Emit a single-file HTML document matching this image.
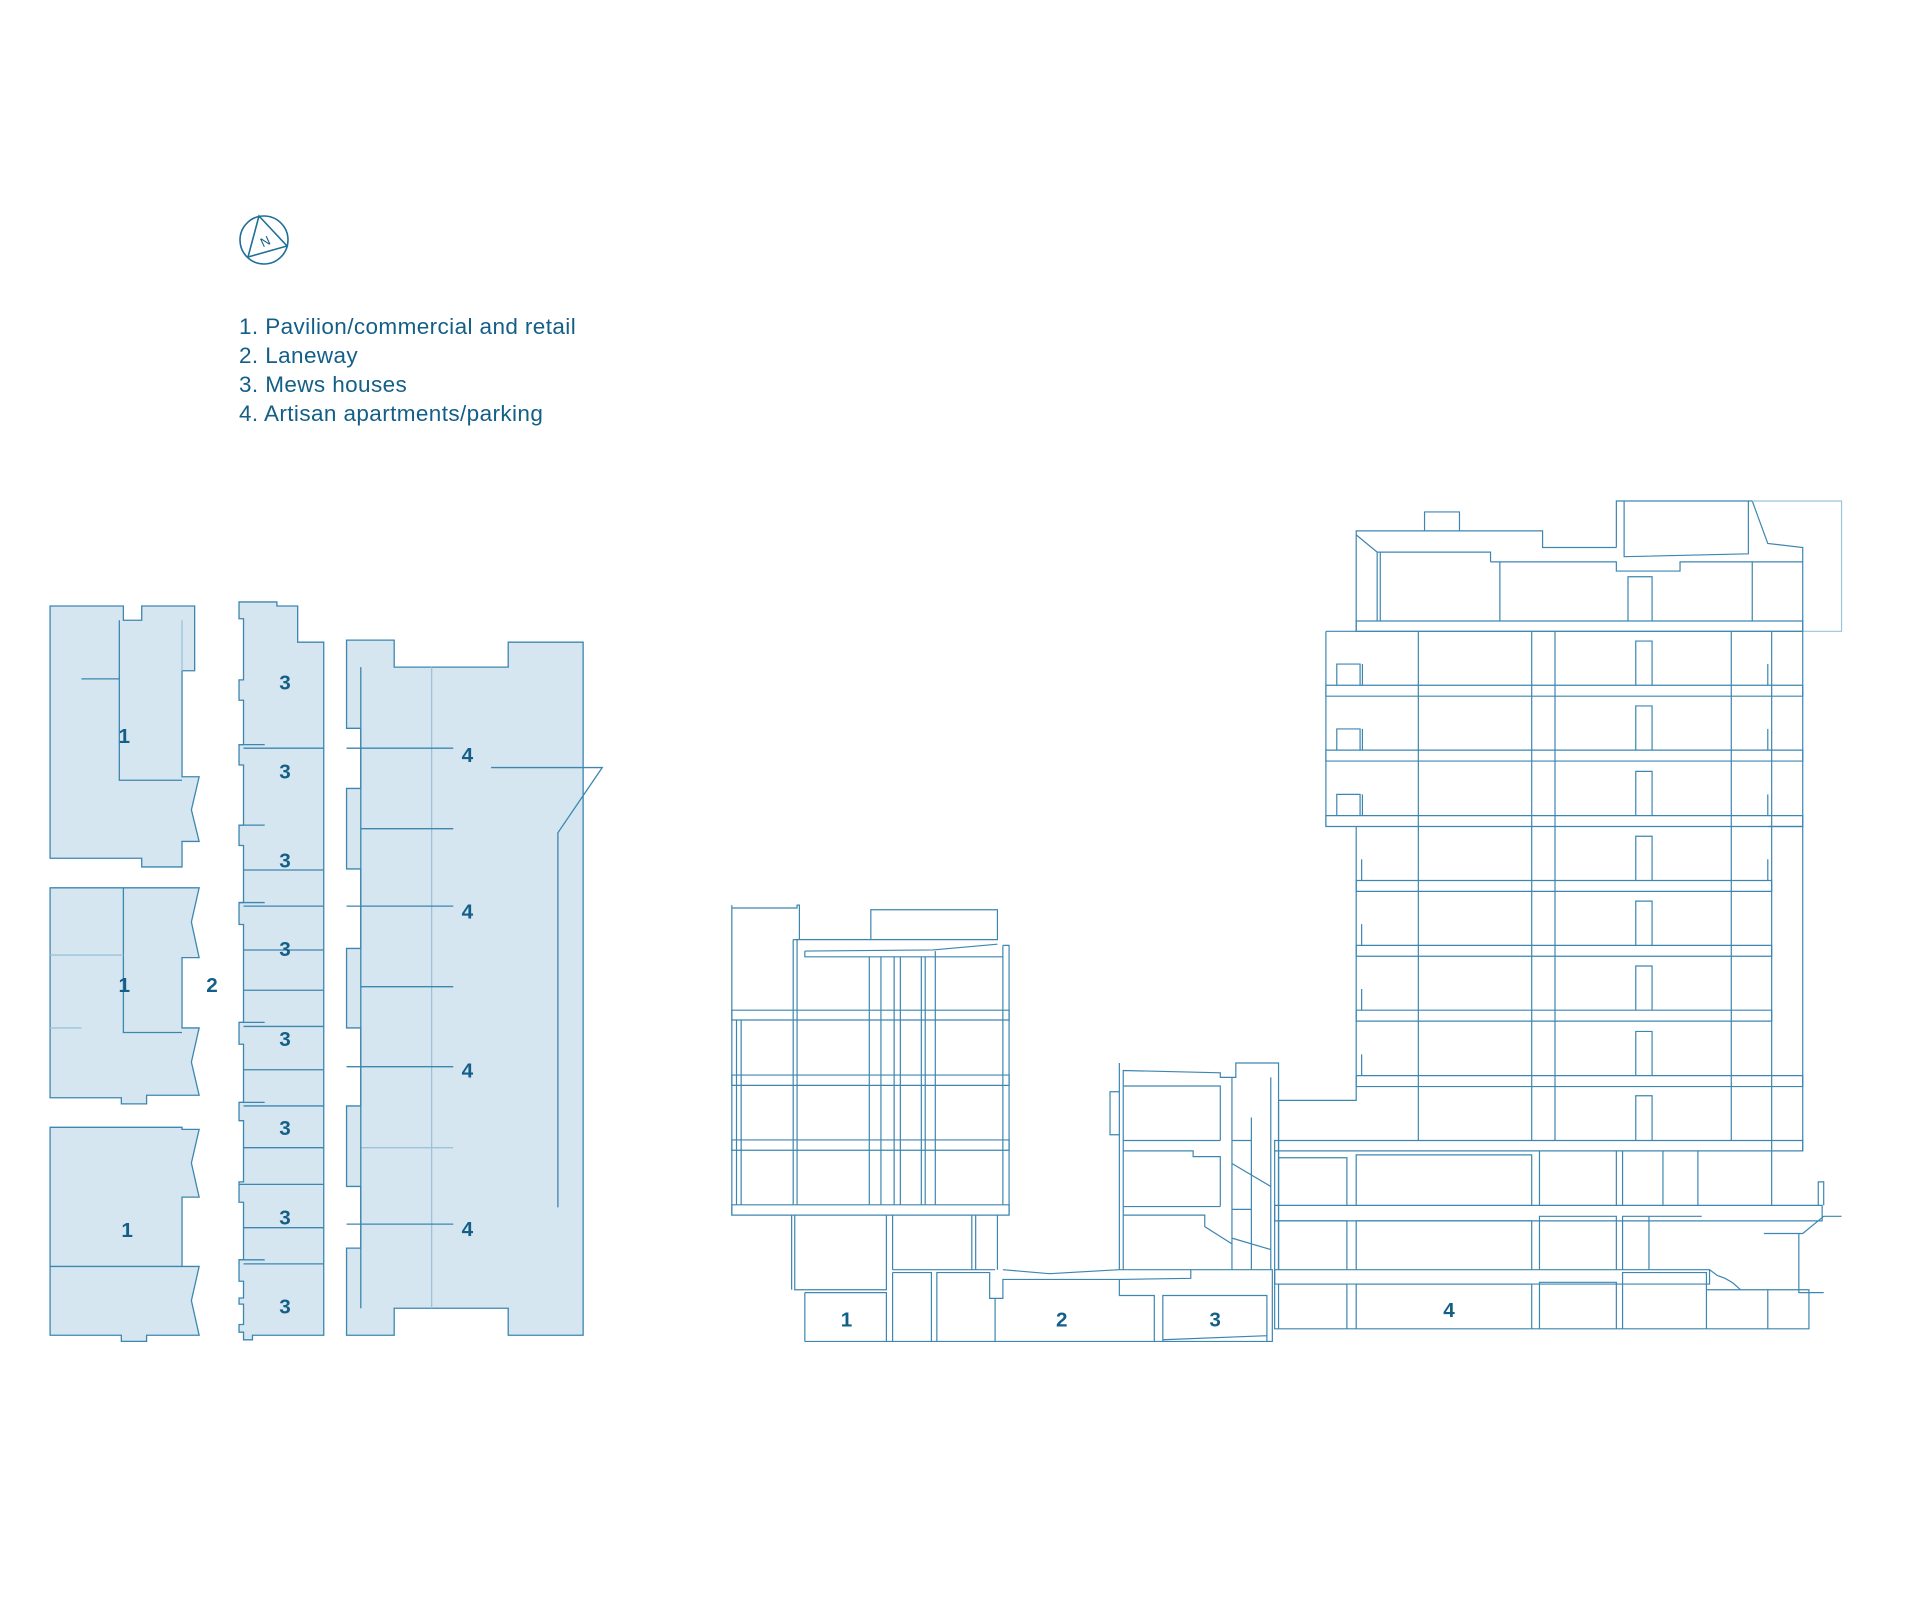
<!DOCTYPE html>
<html><head><meta charset="utf-8"><style>
html,body{margin:0;padding:0;background:#fff;}
svg{display:block;}
.t{font-family:"Liberation Sans",sans-serif;fill:#135f87;}
</style></head><body>
<svg width="1920" height="1600" viewBox="0 0 1920 1600" xmlns="http://www.w3.org/2000/svg">
<!-- compass -->
<g fill="none" stroke="#1f6f99" stroke-width="1.6">
<circle cx="264" cy="240" r="24"/>
<polygon points="259,216 287,246 248,257"/>
</g>
<text x="265" y="246" class="t" font-size="13" text-anchor="middle" transform="rotate(-25 265 241)">N</text>
<g class="t" font-size="22.5" letter-spacing="0.4">
<text x="239" y="334">1. Pavilion/commercial and retail</text>
<text x="239" y="363">2. Laneway</text>
<text x="239" y="392">3. Mews houses</text>
<text x="239" y="421">4. Artisan apartments/parking</text>
</g>

<!-- PLAN -->
<g transform="translate(0,606) scale(0.986,0.98) translate(0,-606)">
<g transform="matrix(0.413,0,0,0.52,0,580)" fill="#d5e6f1" stroke="#3d86b0" stroke-width="1.3">
<path vector-effect="non-scaling-stroke" d="M123,50 L303,50 L303,78 L348,78 L348,50 L478,50 L478,177 L447,177 L447,385 L489,385 L470,450 L489,512 L447,512 L447,562 L348,562 L348,545 L123,545 Z"/>
<path vector-effect="non-scaling-stroke" d="M123,603 L489,603 L470,670 L489,740 L447,740 L447,878 L489,878 L470,945 L489,1010 L360,1010 L360,1027 L298,1027 L298,1015 L123,1015 Z"/>
<path vector-effect="non-scaling-stroke" d="M123,1073 L447,1073 L447,1077 L489,1077 L470,1143 L489,1210 L447,1210 L447,1346 L489,1346 L470,1413 L489,1481 L360,1481 L360,1493 L298,1493 L298,1481 L123,1481 Z"/>
<path vector-effect="non-scaling-stroke" d="M587,42 L680,42 L680,50 L731,50 L731,121 L795,121 L795,1481 L620,1481 L620,1490 L598,1490 L598,1475 L587,1475 L587,1460 L598,1460 L598,1420 L587,1420 L587,1408 L598,1408 L598,1375 L587,1375 L587,1333 L598,1333 L598,1220 L587,1220 L587,1180 L598,1180 L598,1060 L587,1060 L587,1024 L598,1024 L598,910 L587,910 L587,867 L598,867 L598,675 L587,675 L587,632 L598,632 L598,520 L587,520 L587,480 L598,480 L598,362 L587,362 L587,322 L598,322 L598,235 L587,235 L587,195 L598,195 L598,75 L587,75 Z"/>
<path vector-effect="non-scaling-stroke" d="M851,117 L968,117 L968,170 L1248,170 L1248,121 L1432,121 L1432,1481 L1248,1481 L1248,1428 L968,1428 L968,1481 L851,1481 L851,1310 L886,1310 L886,1189 L851,1189 L851,1031 L886,1031 L886,878 L851,878 L851,722 L886,722 L886,566 L851,566 L851,408 L886,408 L886,290 L851,290 Z"/>
<g fill="none">
<path vector-effect="non-scaling-stroke" d="M293,78 L293,392 L447,392 M200,193 L293,193 M303,603 L303,887 L447,887 M123,1346 L447,1346"/>
<path vector-effect="non-scaling-stroke" stroke="#9cc3da" d="M447,78 L447,177 M123,735 L303,735 M123,878 L200,878 M1060,170 L1060,1428 M886,1113 L1113,1113"/>
<path vector-effect="non-scaling-stroke" d="M598,329 L795,329 M598,568 L795,568 M598,639 L795,639 M598,725 L795,725 M598,804 L795,804 M598,875 L795,875 M598,960 L795,960 M598,1031 L795,1031 M598,1113 L795,1113 M598,1185 L795,1185 M598,1270 L795,1270 M598,1341 L795,1341 M587,322 L650,322 M587,480 L650,480 M587,632 L650,632 M587,867 L650,867 M587,1024 L650,1024 M587,1185 L650,1185 M587,1333 L650,1333"/>
<path vector-effect="non-scaling-stroke" d="M886,170 L886,1428 M851,329 L1113,329 M851,639 L1113,639 M851,954 L1113,954 M851,1263 L1113,1263 M886,487 L1113,487 M886,797 L1113,797 M1206,367 L1479,367 L1370,495 L1370,1230"/>
</g>
</g>
<g class="t" font-size="21" font-weight="bold" text-anchor="middle">
<text x="126" y="746">1</text><text x="126" y="1000">1</text><text x="129" y="1250">1</text>
<text x="215" y="1000">2</text>
<text x="289" y="691">3</text><text x="289" y="782">3</text><text x="289" y="873">3</text><text x="289" y="963">3</text>
<text x="289" y="1055">3</text><text x="289" y="1146">3</text><text x="289" y="1237">3</text><text x="289" y="1328">3</text>
<text x="474" y="765">4</text><text x="474" y="925">4</text><text x="474" y="1087">4</text><text x="474" y="1249">4</text>
</g>
</g>

<!-- SECTION -->
<g transform="translate(700,500) scale(0.983) translate(-700,-500)">
<g transform="matrix(0.79,0,0,0.584,700,480)" fill="none" stroke="#3d86b0" stroke-width="1.2">
<path vector-effect="non-scaling-stroke" d="M845,263 L845,88 L1085,88 L1085,117 L1180,117 M1180,117 L1180,36 L1355,36 L1375,110 L1420,117 L1420,1168"/>
<path vector-effect="non-scaling-stroke" stroke="#9cc3da" d="M1355,36 L1470,36 L1470,263 L1420,263"/>
<path vector-effect="non-scaling-stroke" d="M1190,36 L1190,133 L1350,128 L1350,36 M933,88 L933,55 L978,55 L978,88 M845,95 L872,125 L1018,125 L1018,142 M1018,142 L1180,142 L1180,158 L1262,158 L1262,142 L1420,142 M872,125 L872,245 M876,125 L876,245 M1030,142 L1030,245 M1195,245 L1195,168 L1226,168 L1226,245 M1355,142 L1355,245"/>
<rect vector-effect="non-scaling-stroke" x="845" y="245" width="575" height="18"/>
<path vector-effect="non-scaling-stroke" d="M806,263 L806,603 M806,263 L1420,263"/>
<rect vector-effect="non-scaling-stroke" x="806" y="357" width="614" height="19"/>
<rect vector-effect="non-scaling-stroke" x="806" y="470" width="614" height="19"/>
<rect vector-effect="non-scaling-stroke" x="806" y="584" width="614" height="19"/>
<rect vector-effect="non-scaling-stroke" x="845" y="697" width="535" height="19"/>
<rect vector-effect="non-scaling-stroke" x="845" y="810" width="535" height="19"/>
<rect vector-effect="non-scaling-stroke" x="845" y="923" width="535" height="19"/>
<rect vector-effect="non-scaling-stroke" x="845" y="1037" width="575" height="19"/>
<path vector-effect="non-scaling-stroke" d="M845,603 L845,1080 L745,1080 L745,1375 M925,263 L925,1150 M1071,263 L1071,1150 M1101,263 L1101,1150 M1328,263 L1328,1150 M1380,263 L1380,1263 M1375,603 L1420,603"/>
<path vector-effect="non-scaling-stroke" d="M1205,357 L1205,280 L1226,280 L1226,357 M1205,470 L1205,393 L1226,393 L1226,470 M1205,584 L1205,507 L1226,507 L1226,584 M1205,697 L1205,620 L1226,620 L1226,697 M1205,810 L1205,733 L1226,733 L1226,810 M1205,923 L1205,846 L1226,846 L1226,923 M1205,1037 L1205,960 L1226,960 L1226,1037 M1205,1150 L1205,1072 L1226,1072 L1226,1150"/>
<path vector-effect="non-scaling-stroke" d="M820,357 L820,320 L850,320 L850,357 M820,470 L820,433 L850,433 L850,470 M820,584 L820,547 L850,547 L850,584 M853,357 L853,320 M853,470 L853,433 M853,584 L853,547 M1375,357 L1375,320 M1375,470 L1375,433 M1375,584 L1375,547 M852,697 L852,660 M852,810 L852,773 M852,923 L852,886 M852,1037 L852,1000 M1375,697 L1375,660"/>
<rect vector-effect="non-scaling-stroke" x="740" y="1150" width="680" height="18"/>
<rect vector-effect="non-scaling-stroke" x="740" y="1263" width="705" height="27"/>
<rect vector-effect="non-scaling-stroke" x="740" y="1375" width="560" height="25"/>
<path vector-effect="non-scaling-stroke" d="M740,1168 L740,1478 L1428,1478 L1428,1410 L1296,1410 M745,1263 L745,1180 L833,1180 L833,1263 M845,1263 L845,1175 L1071,1175 L1071,1263 M1081,1263 L1081,1168 M1180,1168 L1180,1263 M1188,1168 L1188,1263 M1240,1168 L1240,1263 M1285,1168 L1285,1263 M745,1375 L745,1290 L833,1290 L833,1375 M845,1375 L845,1290 L1071,1290 L1071,1375 M1081,1375 L1081,1282 L1180,1282 L1180,1375 M1188,1375 L1188,1282 L1290,1282 M1222,1282 L1222,1375 M745,1478 L745,1400 L833,1400 L833,1478 M845,1478 L845,1400 L1071,1400 L1071,1478 M1081,1478 L1081,1397 L1180,1397 L1180,1478 M1188,1478 L1188,1380 L1296,1380 L1296,1478 M1375,1410 L1375,1478"/>
<path vector-effect="non-scaling-stroke" d="M1440,1263 L1440,1222 L1447,1222 L1447,1263 M1370,1312 L1420,1312 L1447,1282 L1470,1282 M1415,1312 L1415,1415 L1447,1415 M1300,1375 L1310,1385 L1320,1390 L1330,1398 L1340,1410"/>
<path vector-effect="non-scaling-stroke" d="M41,1280 L41,740 M41,745 L125,745 L125,740 L128,740 L128,800 M120,800 L383,800 L383,748 L220,748 L220,800 M125,800 L125,1262 M120,800 L120,1262 M390,810 L398,810 L398,1280 M390,810 L390,1262 M135,820 L300,818 L383,808 M135,820 L135,830 L303,830 L303,820 M303,830 L390,830"/>
<rect vector-effect="non-scaling-stroke" x="41" y="923" width="357" height="17"/>
<rect vector-effect="non-scaling-stroke" x="41" y="1036" width="357" height="18"/>
<rect vector-effect="non-scaling-stroke" x="41" y="1149" width="357" height="18"/>
<rect vector-effect="non-scaling-stroke" x="41" y="1262" width="357" height="18"/>
<path vector-effect="non-scaling-stroke" d="M53,940 L53,1262 M47,940 L47,1262 M218,830 L218,1262 M233,830 L233,1262 M250,830 L250,1262 M258,830 L258,1262 M285,830 L285,1262 M290,830 L290,1262 M303,830 L303,1262"/>
<path vector-effect="non-scaling-stroke" d="M118,1280 L118,1410 M122,1280 L122,1410 L240,1410 L240,1280 M248,1375 L248,1280 M350,1280 L350,1375 M355,1280 L355,1375 M383,1280 L383,1375"/>
<path vector-effect="non-scaling-stroke" d="M248,1375 L380,1375 M135,1500 L737,1500 L737,1375 L540,1375 M135,1415 L240,1415 L240,1500 M135,1415 L135,1500 M248,1380 L298,1380 L298,1500 M248,1380 L248,1500 M305,1500 L305,1380 L373,1380 L373,1425 L390,1425 L390,1392 L540,1392 L632,1390 L632,1375 M380,1425 L380,1500 M540,1392 L540,1420 L585,1420 L585,1500 M596,1500 L596,1420 L730,1420 L730,1500 M596,1497 L730,1490 M390,1375 L450,1382 L540,1375"/>
<path vector-effect="non-scaling-stroke" d="M540,1375 L540,1015 M545,1375 L545,1028 L670,1032 L670,1040 L690,1040 L690,1015 L745,1015 L745,1375 M528,1065 L540,1065 L540,1140 L528,1140 Z M545,1055 L670,1055 L670,1150 M545,1150 L670,1150 M545,1168 L635,1168 L635,1178 L670,1178 L670,1265 M545,1265 L670,1265 M545,1280 L650,1280 L650,1300 L685,1330 M685,1040 L685,1375 M710,1110 L710,1375 M735,1040 L735,1375 M685,1150 L710,1150 M685,1190 L735,1230 M685,1270 L710,1270 M685,1320 L735,1340"/>
</g>
<g class="t" font-size="21" font-weight="bold" text-anchor="middle">
<text x="849" y="1341">1</text>
<text x="1068" y="1341">2</text>
<text x="1224" y="1341">3</text>
<text x="1462" y="1331">4</text>
</g>
</g>
</svg>
</body></html>
